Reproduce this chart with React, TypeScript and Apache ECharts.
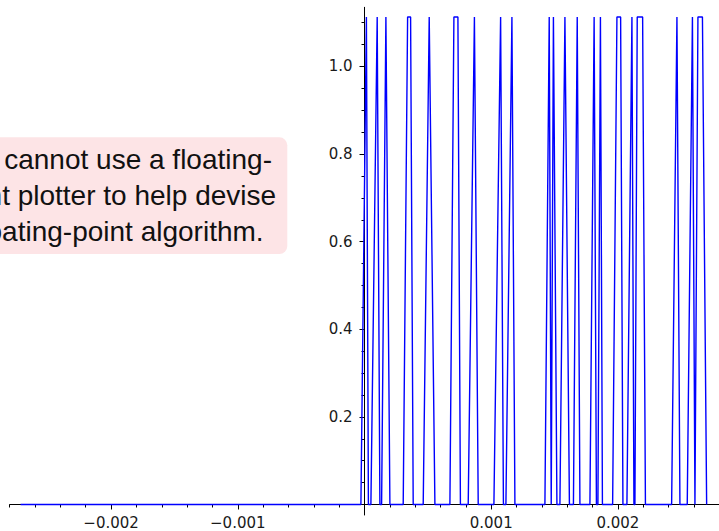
import React, { useEffect, useRef } from "react";
import * as echarts from "echarts";

// x positions of the plotted curve's vertices
const curveX = [
  -0.002714, -0.0000284, 0.000015, 0.0000308, 0.0000505, 0.0001002, 0.0001215,
  0.000135, 0.0001689, 0.0002005, 0.0003054, 0.0003402, 0.0003638, 0.0003844,
  0.0004633, 0.0005107, 0.0005556, 0.000674, 0.0007056, 0.0007372, 0.0007569,
  0.0008185, 0.0008674, 0.0008974, 0.0010213, 0.0010742, 0.0010963, 0.001116,
  0.0011634, 0.001187, 0.0014238, 0.0014578, 0.0014736, 0.0014909, 0.0015185,
  0.0015422, 0.0015817, 0.0016172, 0.0016488, 0.0016788, 0.0017001, 0.001779,
  0.0018122, 0.0018303, 0.0018421, 0.0018619, 0.0018777, 0.0019582, 0.0019921,
  0.0020213, 0.0020395, 0.002071, 0.0021105, 0.0021263, 0.0021342, 0.0021523,
  0.0021949, 0.002217, 0.0024238, 0.0024657, 0.0024893, 0.002547, 0.002588,
  0.0026078, 0.0026314, 0.0026669, 0.0027001,
];
const curveY = [
  0,
  0, 1.113, 0,
  0, 1.113, 0,
  0, 1.113, 0,
  0, 1.113, 1.113, 0,
  0, 1.113, 0,
  0, 1.113, 1.113, 0,
  0, 1.113, 0,
  0, 1.113, 0,
  0, 1.113, 0,
  0, 1.113, 0,
  1.113, 0,
  0, 1.113, 0,
  0, 1.113, 0,
  0, 1.113, 0,
  0, 1.113, 0,
  0, 1.113, 1.113, 0,
  0, 1.113, 0,
  0, 1.113, 1.113, 0,
  0, 1.113, 0,
  0, 1.113, 0,
  1.113, 1.113, 0,
];

const xTicksMajor = [-0.002, -0.001, 0.001, 0.002];
const xTickLabels = ["\u22120.002", "\u22120.001", "0.001", "0.002"];
const xTicksMinor = [
  -0.0028, -0.0026, -0.0024, -0.0022, -0.0018, -0.0016, -0.0014, -0.0012,
  -0.0008, -0.0006, -0.0004, -0.0002, 0.0002, 0.0004, 0.0006, 0.0008, 0.0012,
  0.0014, 0.0016, 0.0018, 0.0022, 0.0024, 0.0026, 0.0028,
];
const yTicksMajor = [0.2, 0.4, 0.6, 0.8, 1.0];
const yTickLabels = ["0.2", "0.4", "0.6", "0.8", "1.0"];
const yTicksMinor = [
  0.05, 0.1, 0.15, 0.25, 0.3, 0.35, 0.45, 0.5, 0.55, 0.65, 0.7, 0.75, 0.85, 0.9,
  0.95, 1.05, 1.1,
];

const noteLines = [
  "You cannot use a floating-",
  "point plotter to help devise",
  "a floating-point algorithm.",
];

const X_MIN = -0.0028;
const X_MAX = 0.0028;
const Y_MIN = -0.024;
const Y_MAX = 1.135;

const W = 719;
const H = 531;
const GRID_LEFT = 9.7;
const GRID_RIGHT = -0.3;
const GRID_TOP = 7.3;
const GRID_BOTTOM = 16;

function lookup(values: number[], labels: string[], v: number) {
  for (let i = 0; i < values.length; i++) {
    if (Math.abs(values[i] - v) < 1e-9) return labels[i];
  }
  return "";
}

export default function App() {
  const ref = useRef<HTMLDivElement>(null);

  useEffect(() => {
    if (!ref.current) return;
    const chart = echarts.init(ref.current, null, { renderer: "svg" });
    const labelFont = {
      fontFamily: "DejaVu Sans",
      fontSize: 15,
      color: "#1a1a1a",
    };
    const axisLineStyle = { color: "#000", width: 1 };

    // place the axes through the origin via offsets
    const gridW = W - GRID_LEFT - GRID_RIGHT;
    const gridH = H - GRID_TOP - GRID_BOTTOM;
    const yAxisOffset = -((0 - X_MIN) / (X_MAX - X_MIN)) * gridW;
    const xAxisOffset = -((0 - Y_MIN) / (Y_MAX - Y_MIN)) * gridH;

    const option: any = {
      animation: false,
      backgroundColor: "#fff",
      grid: {
        left: GRID_LEFT,
        right: GRID_RIGHT,
        top: GRID_TOP,
        bottom: GRID_BOTTOM,
        containLabel: false,
        outerBoundsMode: "none",
      },
      xAxis: [
        {
          type: "value",
          position: "bottom",
          offset: xAxisOffset,
          min: X_MIN,
          max: X_MAX,
          axisLine: { show: true, onZero: false, lineStyle: axisLineStyle },
          axisTick: {
            show: true,
            length: 5,
            customValues: xTicksMajor,
            lineStyle: { color: "#000", width: 1 },
          },
          axisLabel: {
            show: true,
            customValues: xTicksMajor,
            margin: 11,
            ...labelFont,
            formatter: (v: number) => lookup(xTicksMajor, xTickLabels, v),
          },
          splitLine: { show: false },
        },
        {
          type: "value",
          position: "bottom",
          offset: xAxisOffset,
          min: X_MIN,
          max: X_MAX,
          axisLine: { show: false, onZero: false },
          axisTick: {
            show: true,
            length: 3,
            customValues: xTicksMinor,
            lineStyle: { color: "#000", width: 1 },
          },
          axisLabel: { show: false },
          splitLine: { show: false },
        },
      ],
      yAxis: [
        {
          type: "value",
          position: "left",
          offset: yAxisOffset,
          min: Y_MIN,
          max: Y_MAX,
          axisLine: { show: true, onZero: false, lineStyle: axisLineStyle },
          axisTick: {
            show: true,
            length: 5,
            customValues: yTicksMajor,
            lineStyle: { color: "#000", width: 1 },
          },
          axisLabel: {
            show: true,
            customValues: yTicksMajor,
            margin: 12,
            ...labelFont,
            formatter: (v: number) => lookup(yTicksMajor, yTickLabels, v),
          },
          splitLine: { show: false },
        },
        {
          type: "value",
          position: "left",
          offset: yAxisOffset,
          min: Y_MIN,
          max: Y_MAX,
          axisLine: { show: false, onZero: false },
          axisTick: {
            show: true,
            length: 3,
            customValues: yTicksMinor,
            lineStyle: { color: "#000", width: 1 },
          },
          axisLabel: { show: false },
          splitLine: { show: false },
        },
      ],
      series: [
        {
          type: "line",
          xAxisIndex: 0,
          yAxisIndex: 0,
          data: curveX.map((x, i) => [x, curveY[i]]),
          showSymbol: false,
          symbol: "none",
          lineStyle: { color: "#0000ff", width: 1.4 },
          emphasis: { disabled: true },
          silent: true,
          z: 3,
        },
      ],
      graphic: [
        {
          type: "rect",
          z: 10,
          shape: { x: -20, y: 137.3, width: 307.3, height: 116.7, r: 8 },
          style: { fill: "#fde4e6", stroke: "none" },
        },
        ...noteLines.map((t, i) => ({
          type: "text",
          z: 11,
          x: -50.8,
          y: 159 + i * 36,
          style: {
            text: t,
            fill: "#111",
            font: '28px "Liberation Sans"',
            verticalAlign: "middle",
            align: "left",
          },
        })),
      ],
    };
    chart.setOption(option);
    return () => chart.dispose();
  }, []);

  return (
    <div
      ref={ref}
      style={{ position: "fixed", left: 0, top: 0, width: W, height: H }}
    />
  );
}
